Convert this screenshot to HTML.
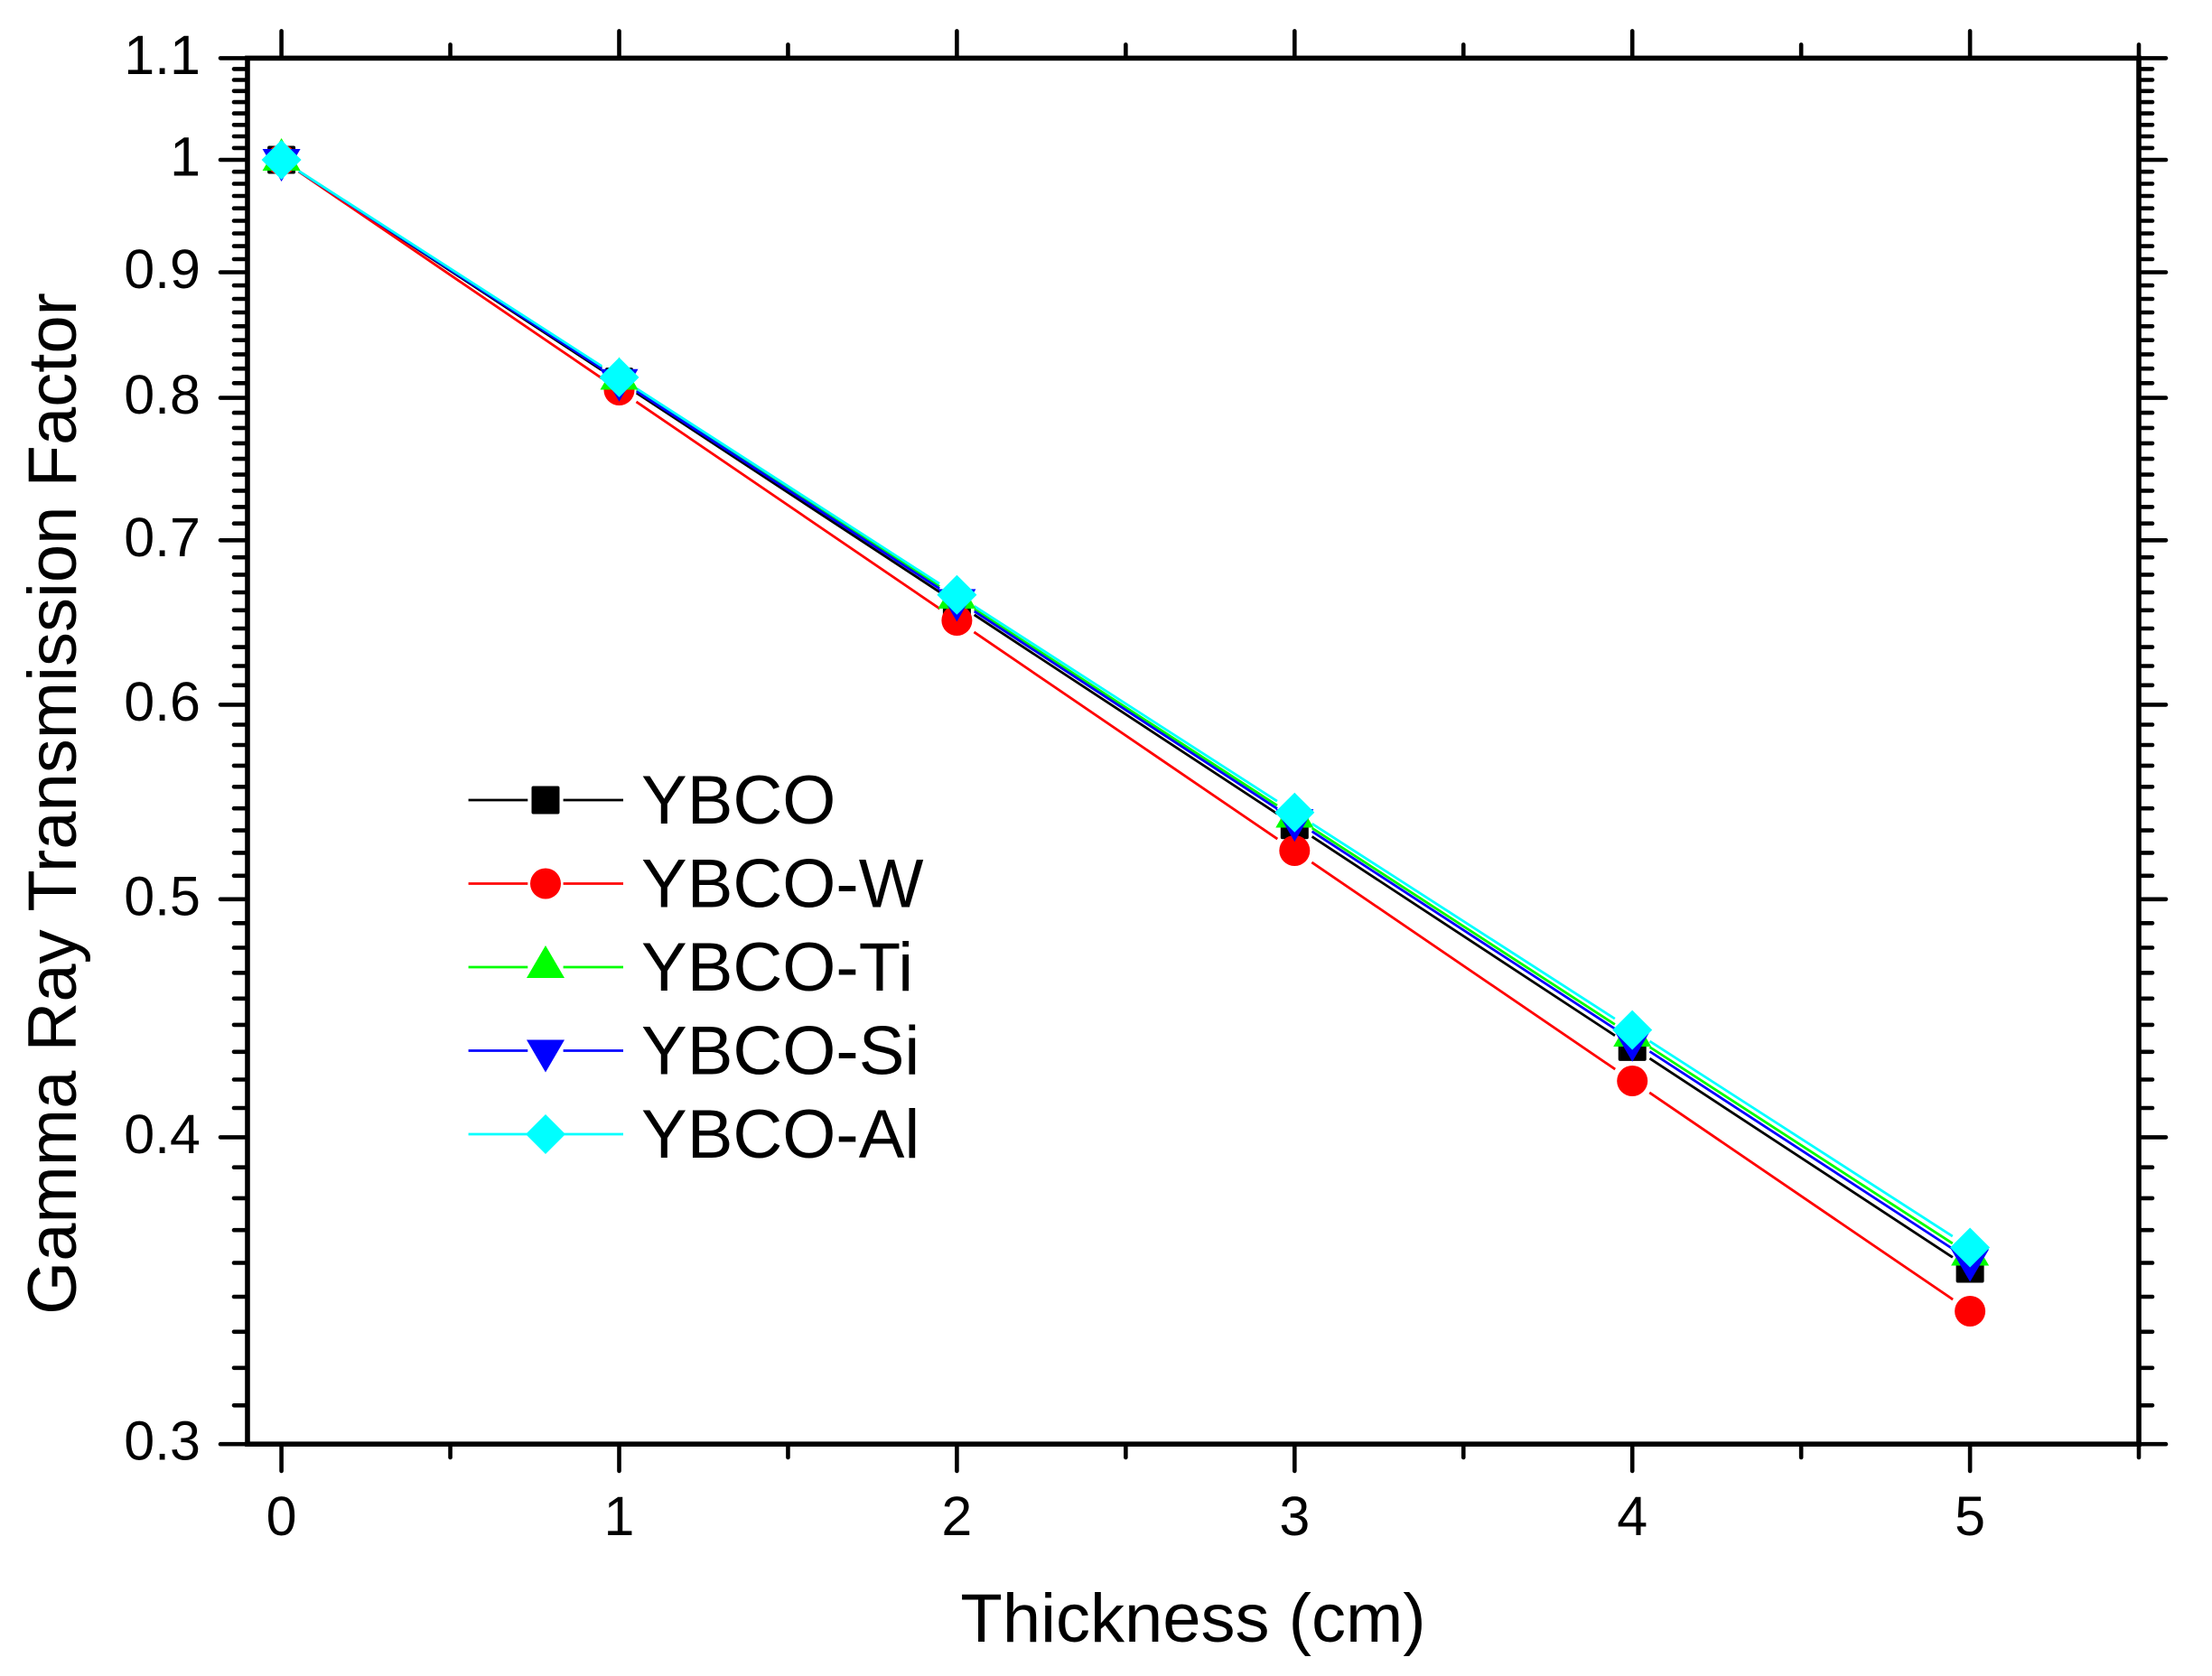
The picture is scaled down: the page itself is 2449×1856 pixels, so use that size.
<!DOCTYPE html>
<html>
<head>
<meta charset="utf-8">
<style>
html,body{margin:0;padding:0;background:#fff;}
svg{display:block;}
text{font-family:"Liberation Sans",Arial,sans-serif;fill:#000;}
</style>
</head>
<body>
<svg width="2449" height="1856" viewBox="0 0 2449 1856" xmlns="http://www.w3.org/2000/svg">
<rect x="0" y="0" width="2449" height="1856" fill="#fff"/>

<!-- minor y ticks left -->
<path fill="none" stroke="#000" stroke-width="4.6" stroke-linecap="round" d="
M274 1556.3h-15M274 1514.8h-15M274 1474.8h-15M274 1436h-15M274 1398.5h-15M274 1362.2h-15M274 1326.9h-15M274 1292.7h-15
M274 1227h-15M274 1195.5h-15M274 1164.8h-15M274 1134.9h-15M274 1105.8h-15M274 1077.3h-15M274 1049.5h-15M274 1022.3h-15
M274 969.8h-15M274 944.4h-15M274 919.6h-15M274 895.2h-15M274 871.3h-15M274 847.9h-15M274 825h-15M274 802.5h-15
M274 758.8h-15M274 737.5h-15M274 716.6h-15M274 696h-15M274 675.8h-15M274 656h-15M274 636.4h-15M274 617.2h-15
M274 579.7h-15M274 561.4h-15M274 543.4h-15M274 525.6h-15M274 508.1h-15M274 490.9h-15M274 473.9h-15M274 457.1h-15
M274 424.3h-15M274 408.2h-15M274 392.4h-15M274 376.7h-15M274 361.3h-15M274 346h-15M274 331h-15M274 316.1h-15
M274 287h-15M274 272.6h-15M274 258.5h-15M274 244.5h-15M274 230.7h-15M274 217h-15M274 203.5h-15M274 190.2h-15
M274 163.9h-15M274 151h-15M274 138.3h-15M274 125.6h-15M274 113.1h-15M274 100.8h-15M274 88.5h-15M274 76.4h-15
"/>
<!-- minor y ticks right -->
<path fill="none" stroke="#000" stroke-width="4.6" stroke-linecap="round" d="
M2368 1556.3h15M2368 1514.8h15M2368 1474.8h15M2368 1436h15M2368 1398.5h15M2368 1362.2h15M2368 1326.9h15M2368 1292.7h15
M2368 1227h15M2368 1195.5h15M2368 1164.8h15M2368 1134.9h15M2368 1105.8h15M2368 1077.3h15M2368 1049.5h15M2368 1022.3h15
M2368 969.8h15M2368 944.4h15M2368 919.6h15M2368 895.2h15M2368 871.3h15M2368 847.9h15M2368 825h15M2368 802.5h15
M2368 758.8h15M2368 737.5h15M2368 716.6h15M2368 696h15M2368 675.8h15M2368 656h15M2368 636.4h15M2368 617.2h15
M2368 579.7h15M2368 561.4h15M2368 543.4h15M2368 525.6h15M2368 508.1h15M2368 490.9h15M2368 473.9h15M2368 457.1h15
M2368 424.3h15M2368 408.2h15M2368 392.4h15M2368 376.7h15M2368 361.3h15M2368 346h15M2368 331h15M2368 316.1h15
M2368 287h15M2368 272.6h15M2368 258.5h15M2368 244.5h15M2368 230.7h15M2368 217h15M2368 203.5h15M2368 190.2h15
M2368 163.9h15M2368 151h15M2368 138.3h15M2368 125.6h15M2368 113.1h15M2368 100.8h15M2368 88.5h15M2368 76.4h15
"/>
<!-- major y ticks -->
<path fill="none" stroke="#000" stroke-width="4.6" stroke-linecap="round" d="
M274 1599.2h-30M274 1259.4h-30M274 995.8h-30M274 780.4h-30M274 598.3h-30M274 440.6h-30M274 301.5h-30M274 177h-30M274 64.4h-30
M2368 1599.2h30M2368 1259.4h30M2368 995.8h30M2368 780.4h30M2368 598.3h30M2368 440.6h30M2368 301.5h30M2368 177h30M2368 64.4h30
"/>
<!-- x ticks -->
<path fill="none" stroke="#000" stroke-width="4.6" stroke-linecap="round" d="
M311.6 1599v30M685.5 1599v30M1059.4 1599v30M1433.3 1599v30M1807.2 1599v30M2181.1 1599v30
M498.55 1599v15M872.45 1599v15M1246.35 1599v15M1620.25 1599v15M1994.15 1599v15M2368 1599v15
M311.6 64.4v-30M685.5 64.4v-30M1059.4 64.4v-30M1433.3 64.4v-30M1807.2 64.4v-30M2181.1 64.4v-30
M498.55 64.4v-15M872.45 64.4v-15M1246.35 64.4v-15M1620.25 64.4v-15M1994.15 64.4v-15M2368 64.4v-15
"/>
<!-- frame -->
<rect x="274" y="64.4" width="2094" height="1534.8" fill="none" stroke="#000" stroke-width="5.6"/>

<!-- y tick labels -->
<g font-size="61" text-anchor="end">
<text x="222" y="81.9">1.1</text>
<text x="222" y="194.5">1</text>
<text x="222" y="319">0.9</text>
<text x="222" y="458.1">0.8</text>
<text x="222" y="615.8">0.7</text>
<text x="222" y="797.9">0.6</text>
<text x="222" y="1013.3">0.5</text>
<text x="222" y="1276.9">0.4</text>
<text x="222" y="1616.7">0.3</text>
</g>
<!-- x tick labels -->
<g font-size="61" text-anchor="middle">
<text x="311.6" y="1700">0</text>
<text x="685.5" y="1700">1</text>
<text x="1059.4" y="1700">2</text>
<text x="1433.3" y="1700">3</text>
<text x="1807.2" y="1700">4</text>
<text x="2181.1" y="1700">5</text>
</g>

<!-- axis titles -->
<text x="1321" y="1818" font-size="76" text-anchor="middle">Thickness (cm)</text>
<text transform="translate(84,890) rotate(-90)" x="0" y="0" font-size="76" text-anchor="middle">Gamma Ray Transmission Factor</text>

<!-- series lines (with gaps around markers) -->
<g fill="none" stroke-width="2.8">
<line x1="311.6" y1="177" x2="2181.1" y2="1405" stroke="#000" stroke-dasharray="401.35 46" stroke-dashoffset="424.35"/>
<line x1="311.6" y1="177" x2="2181.1" y2="1452" stroke="#ff0000" stroke-dasharray="406.58 46" stroke-dashoffset="429.58"/>
<line x1="311.6" y1="177" x2="2181.1" y2="1389.5" stroke="#00ff00" stroke-dasharray="399.65 46" stroke-dashoffset="422.65"/>
<line x1="311.6" y1="177" x2="2181.1" y2="1395.5" stroke="#0000ff" stroke-dasharray="400.31 46" stroke-dashoffset="423.31"/>
<line x1="311.6" y1="177" x2="2181.1" y2="1381.5" stroke="#00ffff" stroke-dasharray="398.78 46" stroke-dashoffset="421.78"/>
</g>

<!-- YBCO squares -->
<g fill="#000">
<rect x="296.1" y="161.5" width="31" height="31" rx="2"/>
<rect x="670" y="407.1" width="31" height="31" rx="2"/>
<rect x="1043.9" y="652.7" width="31" height="31" rx="2"/>
<rect x="1417.8" y="898.3" width="31" height="31" rx="2"/>
<rect x="1791.7" y="1143.9" width="31" height="31" rx="2"/>
<rect x="2165.6" y="1389.5" width="31" height="31" rx="2"/>
</g>
<!-- YBCO-W circles -->
<g fill="#ff0000">
<circle cx="311.6" cy="177" r="17"/>
<circle cx="685.5" cy="432" r="17"/>
<circle cx="1059.4" cy="687" r="17"/>
<circle cx="1433.3" cy="942" r="17"/>
<circle cx="1807.2" cy="1197" r="17"/>
<circle cx="2181.1" cy="1452" r="17"/>
</g>
<!-- YBCO-Ti up triangles -->
<g fill="#00ff00">
<polygon points="311.6,153 290.6,189 332.6,189"/>
<polygon points="685.5,395.5 664.5,431.5 706.5,431.5"/>
<polygon points="1059.4,638 1038.4,674 1080.4,674"/>
<polygon points="1433.3,880.5 1412.3,916.5 1454.3,916.5"/>
<polygon points="1807.2,1123 1786.2,1159 1828.2,1159"/>
<polygon points="2181.1,1365.5 2160.1,1401.5 2202.1,1401.5"/>
</g>
<!-- YBCO-Si down triangles -->
<g fill="#0000ff">
<polygon points="290.6,165 332.6,165 311.6,201"/>
<polygon points="664.5,408.7 706.5,408.7 685.5,444.7"/>
<polygon points="1038.4,652.4 1080.4,652.4 1059.4,688.4"/>
<polygon points="1412.3,896.1 1454.3,896.1 1433.3,932.1"/>
<polygon points="1786.2,1139.8 1828.2,1139.8 1807.2,1175.8"/>
<polygon points="2160.1,1383.5 2202.1,1383.5 2181.1,1419.5"/>
</g>
<!-- YBCO-Al diamonds -->
<g fill="#00ffff">
<polygon points="311.6,155 333.6,177 311.6,199 289.6,177"/>
<polygon points="685.5,395.9 707.5,417.9 685.5,439.9 663.5,417.9"/>
<polygon points="1059.4,636.8 1081.4,658.8 1059.4,680.8 1037.4,658.8"/>
<polygon points="1433.3,877.7 1455.3,899.7 1433.3,921.7 1411.3,899.7"/>
<polygon points="1807.2,1118.6 1829.2,1140.6 1807.2,1162.6 1785.2,1140.6"/>
<polygon points="2181.1,1359.5 2203.1,1381.5 2181.1,1403.5 2159.1,1381.5"/>
</g>

<!-- legend -->
<g fill="none" stroke-width="2.8">
<path d="M518.6 886H584.3M623.6 886H690" stroke="#000"/>
<path d="M518.6 978.5H584.3M623.6 978.5H690" stroke="#ff0000"/>
<path d="M518.6 1071H584.3M623.6 1071H690" stroke="#00ff00"/>
<path d="M518.6 1163.5H584.3M623.6 1163.5H690" stroke="#0000ff"/>
<path d="M518.6 1256H584.3M623.6 1256H690" stroke="#00ffff"/>
</g>
<rect x="588.5" y="870.5" width="31" height="31" rx="2" fill="#000"/>
<circle cx="604" cy="978.5" r="17" fill="#ff0000"/>
<polygon points="604,1047 583,1083 625,1083" fill="#00ff00"/>
<polygon points="583,1151.5 625,1151.5 604,1187.5" fill="#0000ff"/>
<polygon points="604,1234 626,1256 604,1278 582,1256" fill="#00ffff"/>
<g font-size="76">
<text x="710" y="912">YBCO</text>
<text x="710" y="1004.5">YBCO-W</text>
<text x="710" y="1097">YBCO-Ti</text>
<text x="710" y="1189.5">YBCO-Si</text>
<text x="710" y="1282">YBCO-Al</text>
</g>
</svg>
</body>
</html>
